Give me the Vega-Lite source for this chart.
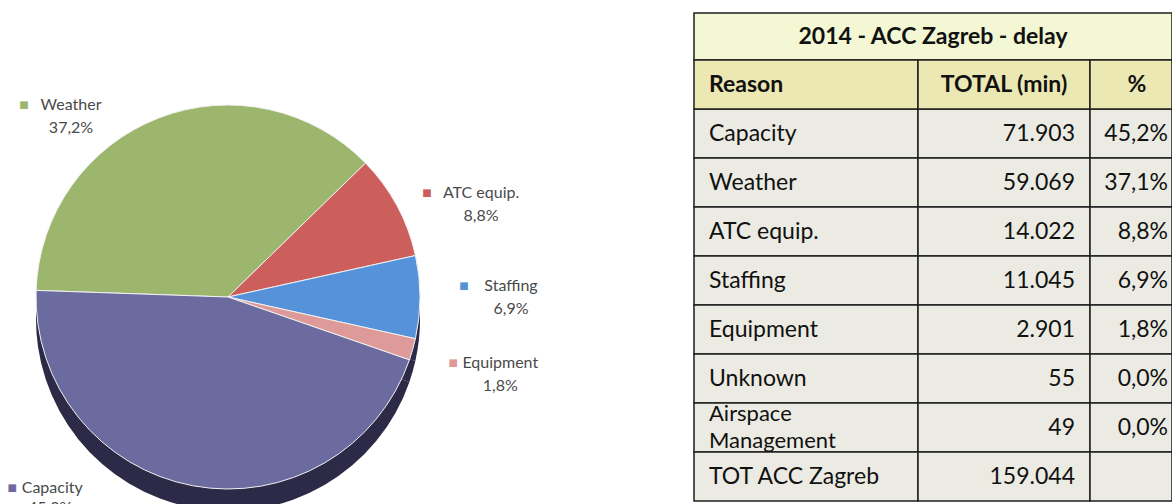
{
  "$schema": "https://vega.github.io/schema/vega-lite/v6.json",
  "padding": {"left": 0, "top": 12, "right": 0, "bottom": 0},
  "background": "white",
  "bounds": "flush",
  "spacing": 238,
  "config": {
    "view": {"stroke": null},
    "font": "Lato",
    "locale": {"number": {"decimal": ",", "thousands": ".", "grouping": [3], "currency": ["", " €"]}}
  },
  "datasets": {
    "pie": [
      {"reason": "Weather", "value": 59069, "ord": 1, "share": 0.372},
      {"reason": "ATC equip.", "value": 14022, "ord": 2, "share": 0.088},
      {"reason": "Staffing", "value": 11045, "ord": 3, "share": 0.069},
      {"reason": "Equipment", "value": 2901, "ord": 4, "share": 0.018},
      {"reason": "Capacity", "value": 71903, "ord": 5, "share": 0.452}
    ],
    "table": [
      {"reason": "Capacity", "total": 71903, "pct": 0.452},
      {"reason": "Weather", "total": 59069, "pct": 0.371},
      {"reason": "ATC equip.", "total": 14022, "pct": 0.088},
      {"reason": "Staffing", "total": 11045, "pct": 0.069},
      {"reason": "Equipment", "total": 2901, "pct": 0.018},
      {"reason": "Unknown", "total": 55, "pct": 0.0},
      {"reason": "Airspace\nManagement", "total": 49, "pct": 0.0},
      {"reason": "TOT ACC  Zagreb", "total": 159044}
    ]
  },
  "hconcat": [
    {
      "width": 456,
      "height": 492,
      "data": {"name": "pie"},
      "encoding": {
        "theta": {"field": "value", "type": "quantitative", "stack": true, "scale": {"range": [4.747, 11.030]}},
        "order": {"field": "ord", "type": "quantitative", "sort": "ascending"},
        "color": {
          "field": "reason", "type": "nominal", "legend": null,
          "scale": {
            "domain": ["Weather", "ATC equip.", "Staffing", "Equipment", "Capacity"],
            "range": ["#9cb66e", "#cc5f5c", "#5692d9", "#dd9a98", "#6c6ba0"]
          }
        }
      },
      "layer": [
        {
          "mark": {"type": "arc", "radius": 192, "yOffset": 60, "clip": true},
          "encoding": {"color": {"value": "#2c2a46"}}
        },
        {
          "mark": {"type": "arc", "radius": 192, "yOffset": 38, "stroke": "#f2f2f2", "strokeWidth": 1}
        },
        {
          "mark": {"type": "text", "radius": 283, "yOffset": 38, "dx": -47, "dy": -11, "font": "DejaVu Sans", "fontSize": 10},
          "encoding": {"text": {"condition": {"test": "datum.reason === 'Staffing' || datum.reason === 'Equipment'", "value": "■"}, "value": ""}}
        },
        {
          "mark": {"type": "text", "radius": 283, "yOffset": 38, "dy": -11, "fontSize": 16},
          "encoding": {
            "color": {"value": "#4a4a4a"},
            "text": {"condition": {"test": "datum.reason === 'Staffing' || datum.reason === 'Equipment'", "field": "reason", "type": "nominal"}, "value": ""}
          }
        },
        {
          "mark": {"type": "text", "radius": 283, "yOffset": 38, "dy": 12, "fontSize": 16},
          "encoding": {
            "color": {"value": "#4a4a4a"},
            "text": {"condition": {"test": "datum.reason === 'Staffing' || datum.reason === 'Equipment'", "field": "share", "type": "quantitative", "format": ".1%"}, "value": ""}
          }
        },
        {
          "mark": {"type": "text", "radius": 283, "yOffset": 38, "dx": -50, "dy": 30, "font": "DejaVu Sans", "fontSize": 10},
          "encoding": {"text": {"condition": {"test": "datum.reason === 'ATC equip.'", "value": "■"}, "value": ""}}
        },
        {
          "mark": {"type": "text", "radius": 283, "yOffset": 38, "dx": 4, "dy": 30, "fontSize": 16},
          "encoding": {
            "color": {"value": "#4a4a4a"},
            "text": {"condition": {"test": "datum.reason === 'ATC equip.'", "field": "reason", "type": "nominal"}, "value": ""}
          }
        },
        {
          "mark": {"type": "text", "radius": 283, "yOffset": 38, "dx": 4, "dy": 53, "fontSize": 16},
          "encoding": {
            "color": {"value": "#4a4a4a"},
            "text": {"condition": {"test": "datum.reason === 'ATC equip.'", "field": "share", "type": "quantitative", "format": ".1%"}, "value": ""}
          }
        },
        {
          "mark": {"type": "text", "radius": 283, "yOffset": 38, "dx": -102, "dy": 72, "font": "DejaVu Sans", "fontSize": 10},
          "encoding": {"text": {"condition": {"test": "datum.reason === 'Weather'", "value": "■"}, "value": ""}}
        },
        {
          "mark": {"type": "text", "radius": 283, "yOffset": 38, "dx": -55, "dy": 72, "fontSize": 16},
          "encoding": {
            "color": {"value": "#4a4a4a"},
            "text": {"condition": {"test": "datum.reason === 'Weather'", "field": "reason", "type": "nominal"}, "value": ""}
          }
        },
        {
          "mark": {"type": "text", "radius": 283, "yOffset": 38, "dx": -55, "dy": 95, "fontSize": 16},
          "encoding": {
            "color": {"value": "#4a4a4a"},
            "text": {"condition": {"test": "datum.reason === 'Weather'", "field": "share", "type": "quantitative", "format": ".1%"}, "value": ""}
          }
        },
        {
          "mark": {"type": "text", "radius": 283, "yOffset": 38, "dx": -164, "dy": -87, "font": "DejaVu Sans", "fontSize": 10, "clip": true},
          "encoding": {"text": {"condition": {"test": "datum.reason === 'Capacity'", "value": "■"}, "value": ""}}
        },
        {
          "mark": {"type": "text", "radius": 283, "yOffset": 38, "dx": -124, "dy": -87, "fontSize": 16, "clip": true},
          "encoding": {
            "color": {"value": "#4a4a4a"},
            "text": {"condition": {"test": "datum.reason === 'Capacity'", "field": "reason", "type": "nominal"}, "value": ""}
          }
        },
        {
          "mark": {"type": "text", "radius": 283, "yOffset": 38, "dx": -126, "dy": -67, "fontSize": 16, "clip": true},
          "encoding": {
            "color": {"value": "#4a4a4a"},
            "text": {"condition": {"test": "datum.reason === 'Capacity'", "field": "share", "type": "quantitative", "format": ".1%"}, "value": ""}
          }
        }
      ]
    },
    {
      "spacing": 0,
      "bounds": "flush",
      "vconcat": [
        {
          "width": 478,
          "height": 47,
          "view": {"fill": "#f3f7d3", "stroke": "#1e1e1e", "strokeWidth": 1.5},
          "data": {"values": [{"caption": "2014 - ACC Zagreb - delay"}]},
          "mark": {"type": "text", "fontSize": 23, "fontWeight": "bold", "color": "#111111"},
          "encoding": {"text": {"field": "caption", "type": "nominal"}}
        },
        {
          "spacing": 0,
          "bounds": "flush",
          "hconcat": [
            {
              "width": 224,
              "height": 441,
              "data": {"name": "table"},
              "encoding": {
                "y": {
                  "field": "reason", "type": "nominal", "axis": null,
                  "scale": {"domain": ["Reason", "Capacity", "Weather", "ATC equip.", "Staffing", "Equipment", "Unknown", "Airspace\nManagement", "TOT ACC  Zagreb"], "paddingInner": 0, "paddingOuter": 0}
                }
              },
              "layer": [
                {"mark": {"type": "rect", "fill": "#ebebe3", "stroke": "#1e1e1e", "strokeWidth": 1.5}},
                {
                  "data": {"values": [{}]},
                  "mark": {"type": "rect", "fill": "#ece8b3", "stroke": "#1e1e1e", "strokeWidth": 1.5},
                  "encoding": {"y": {"datum": "Reason", "type": "nominal"}}
                },
                {
                  "transform": [{"filter": "indexof(datum.reason, 'Management') < 0"}],
                  "mark": {"type": "text", "align": "left", "dx": -97, "fontSize": 23, "color": "#111111"},
                  "encoding": {"text": {"field": "reason", "type": "nominal"}}
                },
                {
                  "transform": [{"filter": "indexof(datum.reason, 'Management') >= 0"}],
                  "mark": {"type": "text", "align": "left", "dx": -97, "dy": -13.5, "fontSize": 22, "lineBreak": "\n", "lineHeight": 27, "color": "#111111"},
                  "encoding": {"text": {"field": "reason", "type": "nominal"}}
                },
                {
                  "data": {"values": [{}]},
                  "mark": {"type": "text", "align": "left", "dx": -97, "fontSize": 23, "fontWeight": "bold", "color": "#111111"},
                  "encoding": {"y": {"datum": "Reason", "type": "nominal"}, "text": {"value": "Reason"}}
                }
              ]
            },
            {
              "width": 172,
              "height": 441,
              "data": {"name": "table"},
              "encoding": {
                "y": {
                  "field": "reason", "type": "nominal", "axis": null,
                  "scale": {"domain": ["Reason", "Capacity", "Weather", "ATC equip.", "Staffing", "Equipment", "Unknown", "Airspace\nManagement", "TOT ACC  Zagreb"], "paddingInner": 0, "paddingOuter": 0}
                }
              },
              "layer": [
                {"mark": {"type": "rect", "fill": "#ebebe3", "stroke": "#1e1e1e", "strokeWidth": 1.5}},
                {
                  "data": {"values": [{}]},
                  "mark": {"type": "rect", "fill": "#ece8b3", "stroke": "#1e1e1e", "strokeWidth": 1.5},
                  "encoding": {"y": {"datum": "Reason", "type": "nominal"}}
                },
                {
                  "mark": {"type": "text", "align": "right", "dx": 71, "fontSize": 23, "color": "#111111"},
                  "encoding": {"text": {"field": "total", "type": "quantitative", "format": ",d"}}
                },
                {
                  "data": {"values": [{}]},
                  "mark": {"type": "text", "align": "center", "fontSize": 23, "fontWeight": "bold", "color": "#111111"},
                  "encoding": {"y": {"datum": "Reason", "type": "nominal"}, "text": {"value": "TOTAL (min)"}}
                }
              ]
            },
            {
              "width": 82,
              "height": 441,
              "data": {"name": "table"},
              "encoding": {
                "y": {
                  "field": "reason", "type": "nominal", "axis": null,
                  "scale": {"domain": ["Reason", "Capacity", "Weather", "ATC equip.", "Staffing", "Equipment", "Unknown", "Airspace\nManagement", "TOT ACC  Zagreb"], "paddingInner": 0, "paddingOuter": 0}
                }
              },
              "layer": [
                {"mark": {"type": "rect", "fill": "#ebebe3", "stroke": "#1e1e1e", "strokeWidth": 1.5}},
                {
                  "data": {"values": [{}]},
                  "mark": {"type": "rect", "fill": "#ece8b3", "stroke": "#1e1e1e", "strokeWidth": 1.5},
                  "encoding": {"y": {"datum": "Reason", "type": "nominal"}}
                },
                {
                  "transform": [{"filter": "isValid(datum.pct)"}],
                  "mark": {"type": "text", "align": "right", "dx": 37, "fontSize": 23, "color": "#111111"},
                  "encoding": {"text": {"field": "pct", "type": "quantitative", "format": ".1%"}}
                },
                {
                  "data": {"values": [{}]},
                  "mark": {"type": "text", "align": "center", "dx": 6, "fontSize": 23, "fontWeight": "bold", "color": "#111111"},
                  "encoding": {"y": {"datum": "Reason", "type": "nominal"}, "text": {"value": "%"}}
                }
              ]
            }
          ]
        }
      ]
    }
  ]
}
